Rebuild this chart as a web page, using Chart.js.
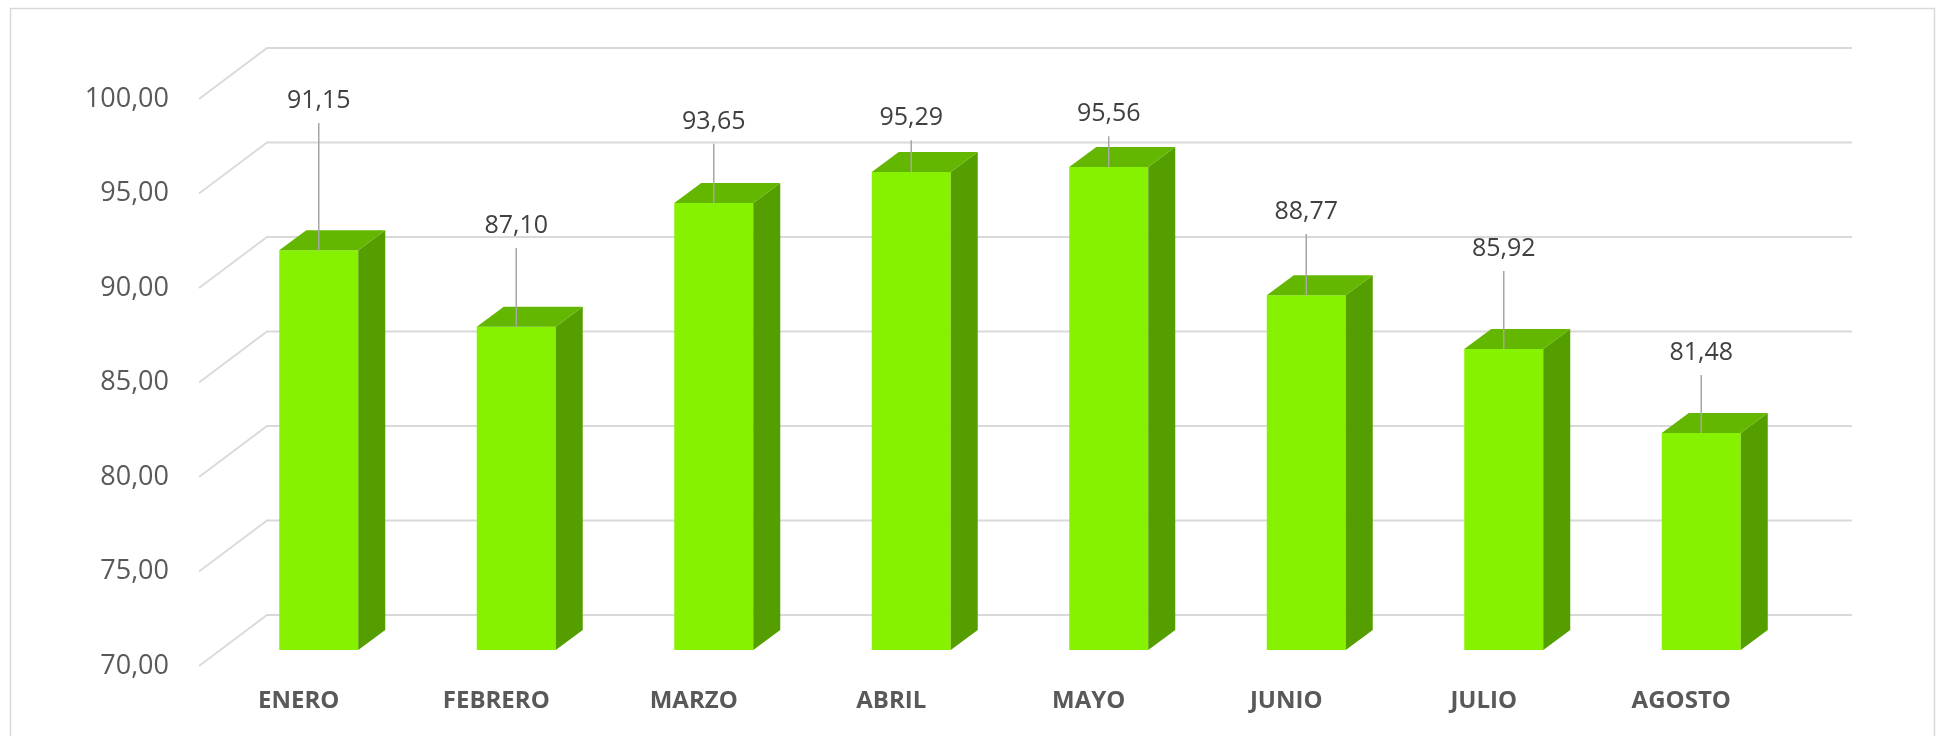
<!DOCTYPE html>
<html>
<head>
<meta charset="utf-8">
<script src="https://cdn.jsdelivr.net/npm/chart.js@4"></script>
<style>
  html,body{margin:0;padding:0;background:#fff;}
  #wrap{width:1936px;height:736px;position:relative;}
</style>
</head>
<body>
<div id="wrap"><canvas id="chart"></canvas></div>
<script>
const months = ["ENERO","FEBRERO","MARZO","ABRIL","MAYO","JUNIO","JULIO","AGOSTO"];
const values = [91.15, 87.10, 93.65, 95.29, 95.56, 88.77, 85.92, 81.48];
// where each value label sits, in axis units
const labelLevels = [99.05, 92.43, 97.95, 98.14, 98.34, 93.17, 91.22, 85.71];
const yMin = 70, yMax = 100, yStep = 5;

const FONT = "'Open Sans', 'Liberation Sans', sans-serif";
const fmt = v => v.toFixed(2).replace(".", ",");

// depth of the fake 3d box
const DX = 27, DY = 20;

const box3d = {
  id: "box3d",
  beforeDraw(chart){
    const ctx = chart.ctx;
    ctx.save();
    ctx.strokeStyle = "#d9d9d9";
    ctx.lineWidth = 1.5;
    ctx.strokeRect(10.5, 8.5, 1924, 760);
    ctx.restore();
  },
  beforeDatasetsDraw(chart){
    const ctx = chart.ctx, y = chart.scales.y, a = chart.chartArea;
    const frontL = a.left - 21, backL = a.left + 47, right = a.right + 52;
    ctx.save();
    ctx.strokeStyle = "#d9d9d9";
    ctx.lineWidth = 1.8;
    for(let v = yMin; v <= yMax; v += yStep){
      const py = y.getPixelForValue(v);
      ctx.beginPath();
      ctx.moveTo(frontL, py + 16);
      ctx.lineTo(backL, py - 35);
      ctx.lineTo(right, py - 35);
      ctx.stroke();
    }
    ctx.restore();
  },
  afterDatasetsDraw(chart){
    const ctx = chart.ctx, y = chart.scales.y, a = chart.chartArea;
    const meta = chart.getDatasetMeta(0);
    ctx.save();
    meta.data.forEach((bar, i) => {
      const p = bar.getProps(["x","y","base","width"], true);
      const L = p.x - p.width/2, R = p.x + p.width/2, T = p.y, B = Math.min(p.base, a.bottom);
      // side
      ctx.fillStyle = "#559e00";
      ctx.beginPath();
      ctx.moveTo(R, T); ctx.lineTo(R+DX, T-DY); ctx.lineTo(R+DX, B-DY); ctx.lineTo(R, B);
      ctx.closePath(); ctx.fill();
      // top
      ctx.fillStyle = "#64b700";
      ctx.beginPath();
      ctx.moveTo(L, T); ctx.lineTo(L+DX, T-DY); ctx.lineTo(R+DX, T-DY); ctx.lineTo(R, T);
      ctx.closePath(); ctx.fill();
    });
    // value labels with leader lines
    meta.data.forEach((bar, i) => {
      const p = bar.getProps(["x","y"], true);
      const ly = y.getPixelForValue(labelLevels[i]);
      ctx.strokeStyle = "#a6a6a6";
      ctx.lineWidth = 1.5;
      ctx.beginPath();
      ctx.moveTo(p.x, ly + 22);
      ctx.lineTo(p.x, p.y);
      ctx.stroke();
      ctx.fillStyle = "#404040";
      ctx.font = "25px " + FONT;
      ctx.textAlign = "center";
      ctx.textBaseline = "middle";
      ctx.fillText(fmt(values[i]), p.x, ly);
    });
    ctx.restore();
  }
};

new Chart(document.getElementById("chart"), {
  type: "bar",
  data: {
    labels: months,
    datasets: [{
      data: values,
      backgroundColor: "#86f200",
      borderWidth: 0,
      barPercentage: 0.4,
      categoryPercentage: 1
    }]
  },
  options: {
    responsive: true,
    maintainAspectRatio: false,
    animation: false,
    layout: {padding: {left: 0, right: 136, top: 83, bottom: 0}},
    plugins: {legend: {display: false}, tooltip: {enabled: false}},
    scales: {
      x: {
        grid: {display: false, drawTicks: false},
        border: {display: false},
        ticks: {
          color: "#595959",
          font: {family: FONT, size: 24, weight: "bold"},
          padding: 37,
          labelOffset: -20,
          maxRotation: 0,
          autoSkip: false
        },
        afterFit: s => { s.height = 86; }
      },
      y: {
        min: yMin, max: yMax,
        grid: {display: false, drawTicks: false},
        border: {display: false},
        ticks: {
          stepSize: yStep,
          color: "#595959",
          font: {family: FONT, size: 27},
          padding: 51,
          labelOffset: 16,
          callback: v => fmt(v)
        },
        afterFit: s => { s.width = 220; }
      }
    }
  },
  plugins: [box3d]
});
</script>
</body>
</html>
